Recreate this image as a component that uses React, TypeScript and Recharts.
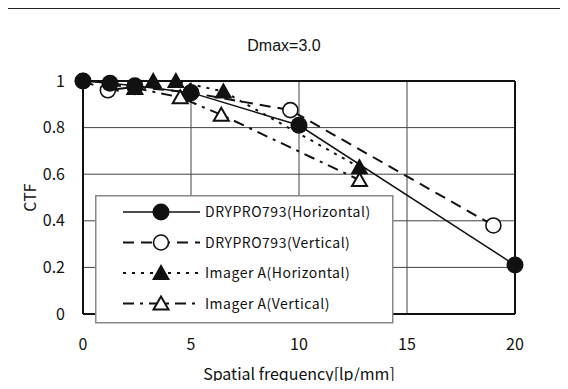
import React from "react";
import {
  LineChart,
  Line,
  XAxis,
  YAxis,
  CartesianGrid,
  ReferenceLine,
  Label,
} from "recharts";

// spatial frequency [lp/mm] and CTF per series
const dryHFreq = [0, 1.25, 2.4, 5, 10, 20];
const dryHCtf = [1.0, 0.99, 0.98, 0.95, 0.81, 0.21];
const dryVFreq = [0, 1.15, 2.4, 5, 9.6, 19];
const dryVCtf = [1.0, 0.96, 0.975, 0.95, 0.875, 0.38];
const imgHFreq = [3.25, 4.3, 6.5, 12.8];
const imgHCtf = [1.0, 1.0, 0.955, 0.63];
const imgVFreq = [1.25, 2.4, 4.5, 6.4, 12.8];
const imgVCtf = [0.985, 0.97, 0.93, 0.855, 0.575];

const xTicks = [0, 5, 10, 15, 20];
const yTicks = [0, 0.2, 0.4, 0.6, 0.8, 1];

const toRows = (xs: number[], ys: number[]) =>
  xs.map((x, i) => ({ x, y: ys[i] }));

const FONT = '"Noto Sans CJK JP", "Noto Sans", sans-serif';

// marker shapes
const FilledCircle = (cx: number, cy: number, key?: any) => (
  <circle key={key} cx={cx} cy={cy} r={8.5} fill="#111" />
);
const OpenCircle = (cx: number, cy: number, key?: any) => (
  <circle key={key} cx={cx} cy={cy} r={7.5} fill="#fff" stroke="#111" strokeWidth={1.6} />
);
const FilledTri = (cx: number, cy: number, key?: any) => (
  <path key={key} d={`M${cx},${cy - 9} L${cx + 9},${cy + 7} L${cx - 9},${cy + 7} Z`} fill="#111" />
);
const OpenTri = (cx: number, cy: number, key?: any) => (
  <path
    key={key}
    d={`M${cx},${cy - 7} L${cx + 7.5},${cy + 6} L${cx - 7.5},${cy + 6} Z`}
    fill="#fff"
    stroke="#111"
    strokeWidth={2}
  />
);

const series = [
  { name: "DRYPRO793(Horizontal)", data: toRows(dryHFreq, dryHCtf), dash: undefined, width: 1.5, marker: FilledCircle },
  { name: "DRYPRO793(Vertical)", data: toRows(dryVFreq, dryVCtf), dash: "11 7", width: 2, marker: OpenCircle },
  { name: "Imager A(Horizontal)", data: toRows(imgHFreq, imgHCtf), dash: "3 6", width: 2, marker: FilledTri },
  { name: "Imager A(Vertical)", data: toRows(imgVFreq, imgVCtf), dash: "11 6 3 6", width: 2, marker: OpenTri },
];

// drawing order: open markers first, filled circles on top
const drawOrder = [3, 1, 2, 0];

const Legend = () => (
  <svg width={300} height={130} style={{ position: "absolute", left: 95, top: 195 }}>
    <rect x={0.75} y={0.75} width={297} height={127} fill="#fff" stroke="#888" strokeWidth={1.5} />
    {series.map((s, i) => {
      const y = 17 + i * 30.5;
      return (
        <g key={s.name}>
          <line x1={28} x2={105} y1={y} y2={y} stroke="#111" strokeWidth={s.width} strokeDasharray={s.dash} />
          {s.marker(66, y)}
          <text x={110} y={y + 5} fontSize={14} letterSpacing={0.5} fontFamily={FONT} fill="#111">
            {s.name}
          </text>
        </g>
      );
    })}
  </svg>
);

export default function App() {
  return (
    <div style={{ position: "relative", width: 568, height: 389, margin: -8, background: "#fff", overflow: "hidden" }}>
      <div
        style={{
          position: "absolute",
          left: 0,
          width: 568,
          top: 37,
          textAlign: "center",
          fontFamily: '"Liberation Sans", Arial, sans-serif',
          fontSize: 16,
          color: "#111",
        }}
      >
        Dmax=3.0
      </div>
      <LineChart
        width={568}
        height={389}
        margin={{ top: 81, right: 53, bottom: 45, left: 43 }}
        style={{ position: "absolute", left: 0, top: 0 }}
      >
        <CartesianGrid stroke="#444" strokeWidth={1} />
        <XAxis
          dataKey="x"
          type="number"
          domain={[0, 20]}
          ticks={xTicks}
          allowDuplicatedCategory={false}
          axisLine={{ stroke: "#111", strokeWidth: 2 }}
          tickLine={false}
          tickSize={0}
          tickMargin={25}
          tick={{ fill: "#111", fontSize: 16, fontFamily: FONT }}
          height={30}
        >
          <Label
            value="Spatial frequency[lp/mm]"
            position="bottom"
            offset={25}
            style={{ fill: "#111", fontSize: 16, fontFamily: FONT }}
          />
        </XAxis>
        <YAxis
          type="number"
          domain={[0, 1]}
          ticks={yTicks}
          width={40}
          axisLine={{ stroke: "#111", strokeWidth: 2 }}
          tickLine={false}
          tickSize={0}
          tickMargin={18}
          tickFormatter={(v: number) => String(v)}
          tick={{ fill: "#111", fontSize: 16, fontFamily: FONT }}
        >
          <Label
            value="CTF"
            angle={-90}
            position="left"
            offset={13}
            style={{ fill: "#111", fontSize: 16, fontFamily: FONT, textAnchor: "middle" }}
          />
        </YAxis>
        <ReferenceLine x={20} stroke="#111" strokeWidth={2} />
        <ReferenceLine y={1} stroke="#111" strokeWidth={2} />
        {drawOrder.map((i) => {
          const s = series[i];
          return (
            <Line
              key={s.name}
              data={s.data}
              dataKey="y"
              name={s.name}
              type="linear"
              stroke="#111"
              strokeWidth={s.width}
              strokeDasharray={s.dash}
              isAnimationActive={false}
              activeDot={false}
              dot={(p: any) => s.marker(p.cx, p.cy, `${s.name}-${p.index}`)}
            />
          );
        })}
      </LineChart>
      <Legend />
      <svg
        width={568}
        height={389}
        style={{ position: "absolute", left: 0, top: 0, pointerEvents: "none" }}
      >
        <rect x={6} y={8} width={560} height={400} fill="none" stroke="#222" strokeWidth={2} />
      </svg>
    </div>
  );
}
